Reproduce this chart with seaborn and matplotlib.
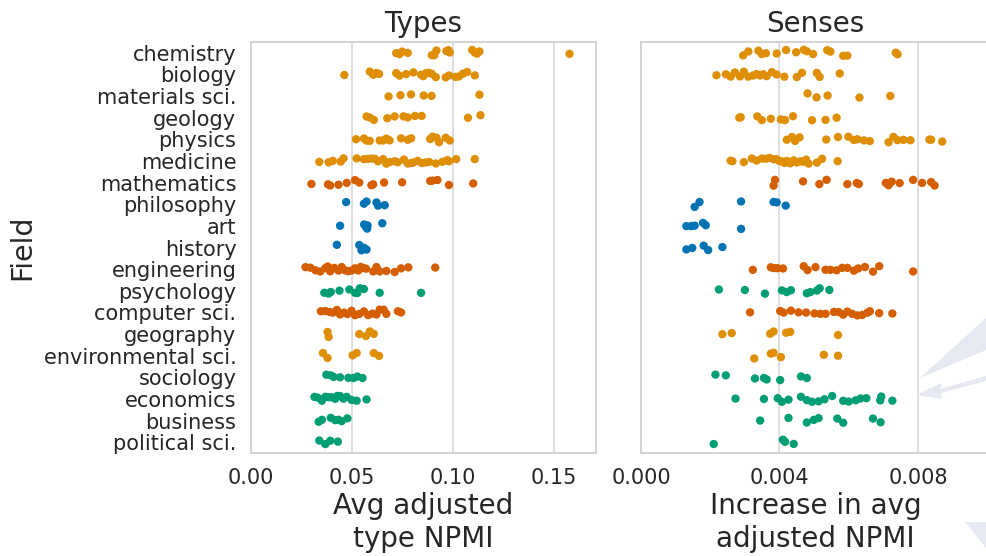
"""Strip plots of field-level NPMI scores for types and senses."""
import matplotlib
matplotlib.use("Agg")
import matplotlib.pyplot as plt
from matplotlib.patches import Polygon
import numpy as np
import pandas as pd
import seaborn as sns

FIELDS = [
    "chemistry", "biology", "materials sci.", "geology", "physics", "medicine",
    "mathematics", "philosophy", "art", "history", "engineering", "psychology",
    "computer sci.", "geography", "environmental sci.", "sociology", "economics",
    "business", "political sci.",
]

GROUP = {
    "chemistry": "natural", "biology": "natural", "materials sci.": "natural",
    "geology": "natural", "physics": "natural", "medicine": "natural",
    "geography": "natural", "environmental sci.": "natural",
    "mathematics": "formal", "engineering": "formal", "computer sci.": "formal",
    "philosophy": "humanities", "art": "humanities", "history": "humanities",
    "psychology": "social", "sociology": "social", "economics": "social",
    "business": "social", "political sci.": "social",
}

PALETTE = {"natural": "#DE8F05", "formal": "#D55E00",
           "humanities": "#0173B2", "social": "#029E73"}

TYPE_TICKS = [0.0, 0.05, 0.10, 0.15]
TYPE_TICK_LABELS = ["0.00", "0.05", "0.10", "0.15"]
SENSE_TICKS = [0.0, 0.004, 0.008]
SENSE_TICK_LABELS = ["0.000", "0.004", "0.008"]

TYPES = {
    "chemistry": [0.0719, 0.0735, 0.0748, 0.0776, 0.0895, 0.0907, 0.0918, 0.0967,
                  0.0977, 0.0984, 0.1095, 0.1108, 0.1119, 0.1131, 0.1577],
    "biology": [0.0462, 0.0588, 0.0605, 0.0621, 0.0634, 0.0719, 0.0735, 0.0768,
                0.0804, 0.0842, 0.0853, 0.0866, 0.0879, 0.0895, 0.0915, 0.0964,
                0.0980, 0.1013, 0.1029, 0.1049, 0.1070, 0.1108],
    "materials sci.": [0.0681, 0.0740, 0.0792, 0.0855, 0.0894, 0.1131],
    "geology": [0.0572, 0.0588, 0.0608, 0.0675, 0.0711, 0.0755, 0.0776, 0.0812,
                0.0845, 0.1074, 0.1136],
    "physics": [0.0520, 0.0559, 0.0572, 0.0588, 0.0637, 0.0654, 0.0670, 0.0686,
                0.0743, 0.0776, 0.0793, 0.0887, 0.0899, 0.0918, 0.0931, 0.0964,
                0.0984],
    "medicine": [0.0338, 0.0384, 0.0405, 0.0444, 0.0458, 0.0523, 0.0559, 0.0580,
                 0.0597, 0.0613, 0.0629, 0.0654, 0.0670, 0.0686, 0.0711, 0.0727,
                 0.0757, 0.0776, 0.0793, 0.0806, 0.0825, 0.0846, 0.0866, 0.0882,
                 0.0915, 0.0948, 0.0972, 0.0980, 0.1016, 0.1108],
    "mathematics": [0.0299, 0.0381, 0.0392, 0.0433, 0.0474, 0.0515, 0.0536, 0.0596,
                    0.0605, 0.0659, 0.0748, 0.0887, 0.0899, 0.0923, 0.0980, 0.1100],
    "philosophy": [0.0471, 0.0559, 0.0572, 0.0621, 0.0629, 0.0662],
    "art": [0.0441, 0.0560, 0.0569, 0.0575, 0.0577, 0.0650],
    "history": [0.0425, 0.0536, 0.0547, 0.0559, 0.0572],
    "engineering": [0.0270, 0.0294, 0.0319, 0.0343, 0.0368, 0.0379, 0.0392, 0.0412,
                    0.0433, 0.0449, 0.0466, 0.0482, 0.0498, 0.0515, 0.0531, 0.0543,
                    0.0556, 0.0569, 0.0605, 0.0621, 0.0637, 0.0670, 0.0711, 0.0743,
                    0.0779, 0.0912],
    "psychology": [0.0363, 0.0384, 0.0395, 0.0438, 0.0487, 0.0515, 0.0526, 0.0539,
                   0.0559, 0.0637, 0.0842],
    "computer sci.": [0.0346, 0.0368, 0.0389, 0.0405, 0.0425, 0.0441, 0.0461, 0.0477,
                      0.0498, 0.0515, 0.0536, 0.0559, 0.0580, 0.0601, 0.0621, 0.0637,
                      0.0657, 0.0670, 0.0727, 0.0743],
    "geography": [0.0379, 0.0384, 0.0536, 0.0569, 0.0588, 0.0608],
    "environmental sci.": [0.0356, 0.0379, 0.0503, 0.0523, 0.0608, 0.0634],
    "sociology": [0.0373, 0.0395, 0.0409, 0.0441, 0.0482, 0.0507, 0.0526, 0.0552],
    "economics": [0.0314, 0.0330, 0.0351, 0.0368, 0.0384, 0.0400, 0.0417, 0.0428,
                  0.0441, 0.0458, 0.0474, 0.0498, 0.0523, 0.0572],
    "business": [0.0335, 0.0351, 0.0395, 0.0417, 0.0433, 0.0449, 0.0477],
    "political sci.": [0.0338, 0.0368, 0.0392, 0.0430],
}

SENSES = {
    "chemistry": [0.00295, 0.00310, 0.00339, 0.00349, 0.00361, 0.00392, 0.00419,
                  0.00448, 0.00470, 0.00479, 0.00497, 0.00538, 0.00547, 0.00584,
                  0.00596, 0.00736, 0.00741],
    "biology": [0.00218, 0.00245, 0.00259, 0.00271, 0.00286, 0.00297, 0.00310,
                0.00324, 0.00334, 0.00344, 0.00353, 0.00363, 0.00378, 0.00392,
                0.00414, 0.00450, 0.00465, 0.00508, 0.00516, 0.00574],
    "materials sci.": [0.00481, 0.00507, 0.00539, 0.00631, 0.00720],
    "geology": [0.00284, 0.00288, 0.00336, 0.00349, 0.00375, 0.00404, 0.00416,
                0.00439, 0.00494, 0.00533, 0.00565],
    "physics": [0.00421, 0.00436, 0.00445, 0.00458, 0.00535, 0.00569, 0.00599,
                0.00615, 0.00625, 0.00644, 0.00661, 0.00715, 0.00729, 0.00741,
                0.00758, 0.00778, 0.00833, 0.00838, 0.00870],
    "medicine": [0.00259, 0.00264, 0.00297, 0.00320, 0.00334, 0.00349, 0.00361,
                 0.00371, 0.00383, 0.00392, 0.00400, 0.00407, 0.00414, 0.00421,
                 0.00431, 0.00441, 0.00450, 0.00460, 0.00468, 0.00477, 0.00484,
                 0.00508, 0.00523, 0.00568],
    "mathematics": [0.00383, 0.00387, 0.00468, 0.00515, 0.00536, 0.00596, 0.00623,
                    0.00629, 0.00707, 0.00715, 0.00724, 0.00747, 0.00786, 0.00812,
                    0.00838, 0.00848],
    "philosophy": [0.00155, 0.00169, 0.00289, 0.00383, 0.00392, 0.00418],
    "art": [0.00131, 0.00145, 0.00155, 0.00179, 0.00187, 0.00289],
    "history": [0.00131, 0.00148, 0.00181, 0.00194, 0.00235],
    "engineering": [0.00323, 0.00375, 0.00384, 0.00394, 0.00410, 0.00470, 0.00481,
                    0.00504, 0.00533, 0.00547, 0.00565, 0.00581, 0.00596, 0.00615,
                    0.00627, 0.00647, 0.00670, 0.00688, 0.00786],
    "psychology": [0.00225, 0.00300, 0.00358, 0.00407, 0.00421, 0.00433, 0.00479,
                   0.00489, 0.00508, 0.00516, 0.00544],
    "computer sci.": [0.00315, 0.00402, 0.00412, 0.00433, 0.00455, 0.00477, 0.00501,
                      0.00518, 0.00533, 0.00557, 0.00571, 0.00584, 0.00596, 0.00610,
                      0.00625, 0.00639, 0.00654, 0.00661, 0.00688, 0.00726],
    "geography": [0.00235, 0.00262, 0.00373, 0.00383, 0.00419, 0.00431, 0.00569],
    "environmental sci.": [0.00327, 0.00375, 0.00383, 0.00404, 0.00528, 0.00569],
    "sociology": [0.00215, 0.00245, 0.00329, 0.00355, 0.00363, 0.00402, 0.00462,
                  0.00479],
    "economics": [0.00273, 0.00355, 0.00395, 0.00407, 0.00426, 0.00462, 0.00479,
                  0.00494, 0.00513, 0.00530, 0.00552, 0.00584, 0.00600, 0.00620,
                  0.00634, 0.00651, 0.00691, 0.00694, 0.00726],
    "business": [0.00344, 0.00426, 0.00479, 0.00499, 0.00513, 0.00567, 0.00584,
                 0.00670, 0.00692],
    "political sci.": [0.00210, 0.00410, 0.00416, 0.00441],
}


def to_frame(scores: dict) -> pd.DataFrame:
    rows = [(f, v, GROUP[f]) for f in FIELDS for v in scores[f]]
    return pd.DataFrame(rows, columns=["field", "value", "group"])


def main() -> None:
    np.random.seed(3)
    sns.set_theme(style="whitegrid")
    plt.rcParams["font.family"] = ["DejaVu Sans"]

    W, H = 986, 556
    fig = plt.figure(figsize=(W / 100, H / 100), dpi=100)
    ax1 = fig.add_axes([251 / W, 1 - 453 / H, 345 / W, 411 / H])
    ax2 = fig.add_axes([641 / W, 1 - 453 / H, 349 / W, 411 / H])

    panels = [
        (ax1, TYPES, "Types", "Avg adjusted\ntype NPMI",
         (0, 0.1708), TYPE_TICKS, TYPE_TICK_LABELS),
        (ax2, SENSES, "Senses", "Increase in avg\nadjusted NPMI",
         (0, 0.01008), SENSE_TICKS, SENSE_TICK_LABELS),
    ]
    for ax, scores, title, xlabel, xlim, ticks, labels in panels:
        sns.stripplot(data=to_frame(scores), x="value", y="field", hue="group",
                      order=FIELDS, palette=PALETTE, size=6, jitter=0.14,
                      legend=False, ax=ax)
        ax.set_title(title, fontsize=20, pad=7, color="#262626")
        ax.set_xlim(*xlim)
        ax.set_xticks(ticks, labels)
        ax.set_xlabel(xlabel, fontsize=20, color="#262626", labelpad=3)
        ax.grid(axis="y", visible=False)
        ax.grid(axis="x", color="#d4d4d4", linewidth=1.1)
        for sp in ax.spines.values():
            sp.set_color("#d0d0d0")
            sp.set_linewidth(1.3)
        ax.tick_params(axis="x", labelsize=15, pad=5, colors="#262626")
        ax.tick_params(axis="y", labelsize=15, pad=4.5, colors="#262626")

    ax1.set_ylabel("Field", fontsize=20.5, color="#262626", labelpad=5)
    ax2.set_ylabel("")
    ax2.tick_params(axis="y", labelleft=False)

    # faint overlay shapes at the right edge of the source image
    shade = "#e6e8f2"
    shapes = [
        [(920, 378), (986, 318), (986, 350)],
        [(916, 395), (942, 383), (940, 389), (986, 376), (986, 381), (941, 393), (942, 399)],
        [(965, 522), (986, 522), (986, 548)],
    ]
    for pts in shapes:
        fig.add_artist(Polygon([(x / W, 1 - y / H) for x, y in pts], closed=True,
                               facecolor=shade, edgecolor="none",
                               transform=fig.transFigure, zorder=0.5))

    fig.savefig("out.png", dpi=100)
    plt.close(fig)


if __name__ == "__main__":
    main()
